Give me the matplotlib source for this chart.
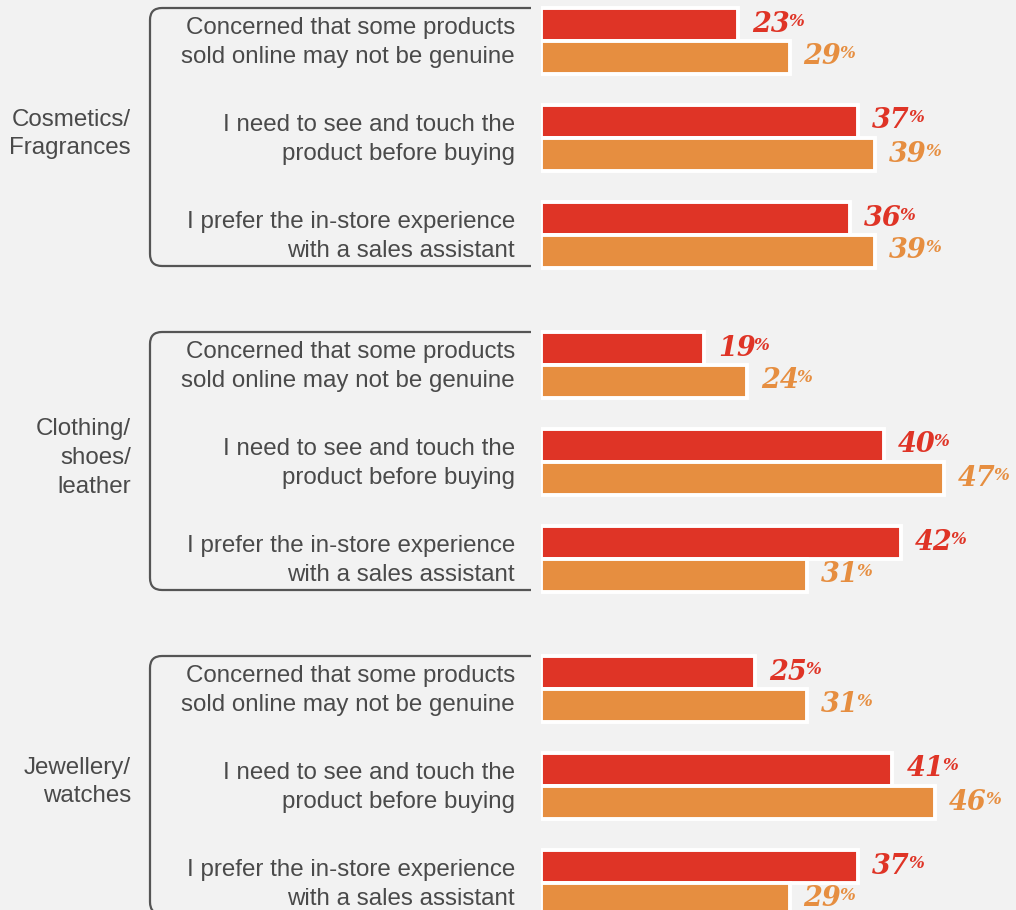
import matplotlib.pyplot as plt
from matplotlib.path import Path
from matplotlib.patches import PathPatch
from matplotlib.transforms import ScaledTranslation

categories = ['Cosmetics/\nFragrances', 'Clothing/\nshoes/\nleather', 'Jewellery/\nwatches']
reasons = [
    'Concerned that some products\nsold online may not be genuine',
    'I need to see and touch the\nproduct before buying',
    'I prefer the in-store experience\nwith a sales assistant',
]
# first and second series for each category, one value per reason
red_vals = [[23, 37, 36], [19, 40, 42], [25, 41, 37]]
orange_vals = [[29, 39, 39], [24, 47, 31], [31, 46, 29]]

RED = '#DF3426'
ORANGE = '#E68E40'
BG = '#F2F2F2'
TXT = '#4A4A4A'

W, H = 1016, 910
fig = plt.figure(figsize=(W / 100, H / 100), dpi=100, facecolor=BG)

# overlay axes in pixel units for labels and brackets
ax = fig.add_axes([0, 0, 1, 1])
ax.set_xlim(0, W)
ax.set_ylim(H, 0)
ax.set_axis_off()

# bar axes: starts at the bars' baseline
x0 = 541
px_per_pct = 8.57
axb = fig.add_axes([x0 / W, 0, (W - x0) / W, 1])
axb.set_xlim(0, (W - x0) / px_per_pct)
axb.set_ylim(H, 0)
axb.set_axis_off()
axb.patch.set_alpha(0)

group_step = 324
row_step = 97
pair_gap = 33
top = 24

fig.canvas.draw()
renderer = fig.canvas.get_renderer()
shift = ScaledTranslation(14 / 100, 0, fig.dpi_scale_trans)

for g, cat in enumerate(categories):
    gy = top + group_step * g
    for i, reason in enumerate(reasons):
        ry = gy + row_step * i
        oy = ry + pair_gap
        for y, v, c in [(ry, red_vals[g][i], RED), (oy, orange_vals[g][i], ORANGE)]:
            axb.barh(y, v, height=pair_gap, color=c, edgecolor='white',
                     linewidth=2.8, left=0)
            t = axb.text(v, y, str(v), color=c, fontsize=19.5,
                         family='DejaVu Serif', weight='bold', style='italic',
                         ha='left', va='center', transform=axb.transData + shift)
            bb = t.get_window_extent(renderer)
            # percent sign, smaller and raised
            xr, _ = ax.transData.inverted().transform((bb.x1, bb.y1))
            ax.text(xr - 2, y - 3, '%', color=c, fontsize=12,
                    family='DejaVu Serif', weight='bold', style='italic',
                    ha='left', va='center')
        ax.text(515, (ry + oy) / 2 + 2, reason, ha='right', va='center',
                fontsize=17.4, color=TXT, family='Liberation Sans',
                linespacing=1.4)

    # bracket around the group
    yt = gy - 16
    yb = yt + 258
    xl, xr, r = 150, 531, 12
    verts = [(xr, yt), (xl + r, yt), (xl, yt), (xl, yt + r), (xl, yb - r),
             (xl, yb), (xl + r, yb), (xr, yb)]
    codes = [Path.MOVETO, Path.LINETO, Path.CURVE3, Path.CURVE3, Path.LINETO,
             Path.CURVE3, Path.CURVE3, Path.LINETO]
    ax.add_patch(PathPatch(Path(verts, codes), fill=False, edgecolor='#555555',
                           linewidth=1.6, clip_on=False))
    ax.text(131, (yt + yb) / 2 - 3, cat, ha='right', va='center', fontsize=17.4,
            color=TXT, family='Liberation Sans', linespacing=1.4)

fig.savefig('out.png', dpi=100, facecolor=BG)
